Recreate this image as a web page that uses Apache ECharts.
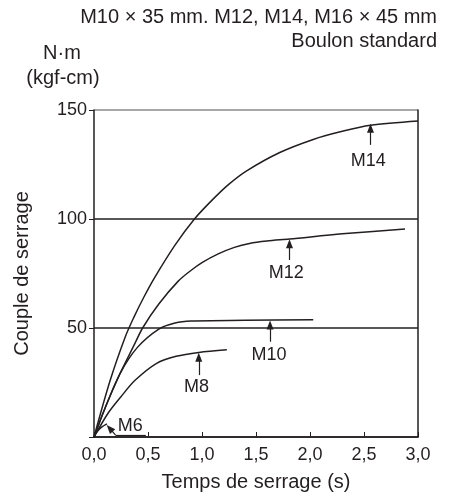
<!DOCTYPE html>
<html>
<head>
<meta charset="utf-8">
<script src="https://cdn.jsdelivr.net/npm/echarts@6/dist/echarts.min.js"></script>
<style>
  html, body { margin: 0; padding: 0; background: #fff; }
  #main { width: 453px; height: 494px; }
</style>
</head>
<body>
<div id="main"></div>
<script>
// courbes : [temps (s), couple]
var m6 = [[0, 0], [0.03, 2.5], [0.07, 4.5], [0.12, 6]];
var m8 = [[0, 0], [0.13, 10.9], [0.25, 18.5], [0.38, 26], [0.58, 33.8], [0.76, 37], [0.97, 38.8], [1.23, 40]];
var m10 = [[0, 0], [0.1, 13], [0.24, 29], [0.4, 41], [0.6, 49.5], [0.75, 52.3], [0.9, 53.2], [1.4, 53.5], [2.03, 53.8]];
var m12 = [[0, 0], [0.1, 13], [0.24, 29], [0.37, 42], [0.45, 50], [0.6, 61], [0.78, 71.5], [0.9, 76.5], [1.0, 80],
           [1.15, 84], [1.3, 87], [1.44, 88.8], [1.6, 89.9], [1.81, 90.8], [2.3, 93.2], [2.88, 95.4]];
var m14 = [[0, 0], [0.15, 26], [0.29, 46], [0.37, 55], [0.46, 64], [0.56, 73], [0.75, 88], [0.93, 100], [1.1, 109],
           [1.25, 116], [1.41, 122], [1.72, 130.5], [2.03, 136.5], [2.28, 140], [2.56, 143], [3.0, 145]];

// repères : [t, couple bas de la flèche, couple pointe, t texte, couple texte]
var noteM8 = [0.97, 28.4, 36.6, 0.95, 23.1];
var noteM10 = [1.63, 43.7, 51.4, 1.62, 37.6];
var noteM12 = [1.81, 81.2, 88.6, 1.78, 75.2];
var noteM14 = [2.56, 134, 141.6, 2.54, 126.6];

var ink = '#231f20';
var fontFam = 'Liberation Sans, Arial, sans-serif';

function fmt(v) {
  return v.toFixed(1).replace('.', ',');
}

function arrowNote(name, n) {
  return {
    markLine: {
      silent: true,
      symbol: ['none', 'triangle'],
      symbolSize: [7, 9],
      lineStyle: { color: ink, width: 1.2, type: 'solid' },
      label: { show: false },
      data: [[{ coord: [n[0], n[1]] }, { coord: [n[0], n[2]] }]]
    },
    markPoint: {
      silent: true,
      symbol: 'rect',
      symbolSize: 1,
      itemStyle: { color: 'rgba(0,0,0,0)' },
      label: { show: true, position: 'inside', formatter: name, color: ink, fontSize: 18, fontFamily: fontFam },
      data: [{ coord: [n[3], n[4]] }]
    }
  };
}

function curve(name, data, note) {
  var s = {
    name: name,
    type: 'line',
    data: data,
    smooth: 0.3,
    showSymbol: false,
    lineStyle: { color: ink, width: 1.5 },
    itemStyle: { color: ink }
  };
  if (note) {
    var a = arrowNote(name, note);
    s.markLine = a.markLine;
    s.markPoint = a.markPoint;
  }
  return s;
}

var chart = echarts.init(document.getElementById('main'));

var m6Series = curve('M6', m6);
m6Series.markLine = {
  silent: true,
  symbol: 'none',
  lineStyle: { color: ink, width: 1.2, type: 'solid' },
  label: { show: false },
  data: [
    [{ coord: [0.2, 0.9], symbol: 'none' }, { coord: [0.145, 4.0], symbol: 'triangle', symbolSize: [7, 9] }],
    [{ coord: [0.2, 0.9] }, { coord: [0.48, 0.9] }]
  ]
};
m6Series.markPoint = arrowNote('M6', [0, 0, 0, 0.335, 5.2]).markPoint;

chart.setOption({
  animation: false,
  backgroundColor: '#fff',
  textStyle: { fontFamily: fontFam, color: ink },
  grid: { left: 94, right: 35, top: 110, bottom: 57, outerBoundsMode: 'none' },
  graphic: [
    { type: 'text', right: 16, top: 7, style: { text: 'M10 × 35 mm. M12, M14, M16 × 45 mm', fontSize: 20, fontFamily: fontFam, fill: ink } },
    { type: 'text', right: 16, top: 31, style: { text: 'Boulon standard', fontSize: 20, fontFamily: fontFam, fill: ink } },
    { type: 'text', x: 62, y: 53, style: { text: 'N·m', fontSize: 20, fontFamily: fontFam, fill: ink, textAlign: 'center', textVerticalAlign: 'middle' } },
    { type: 'text', x: 63, y: 78, style: { text: '(kgf-cm)', fontSize: 20, fontFamily: fontFam, fill: ink, textAlign: 'center', textVerticalAlign: 'middle' } }
  ],
  xAxis: {
    type: 'value',
    min: 0,
    max: 3,
    interval: 0.5,
    name: 'Temps de serrage (s)',
    nameLocation: 'middle',
    nameGap: 35,
    nameTextStyle: { fontSize: 20, color: ink, fontFamily: fontFam },
    axisLine: { show: true, lineStyle: { color: ink, width: 1.5 } },
    axisTick: { show: true, inside: true, length: 5, lineStyle: { color: ink } },
    axisLabel: { fontSize: 18, color: ink, margin: 9, formatter: fmt },
    splitLine: { show: false }
  },
  yAxis: [{
    type: 'value',
    min: 0,
    max: 150,
    interval: 50,
    name: 'Couple de serrage',
    nameLocation: 'middle',
    nameGap: 62,
    nameTextStyle: { fontSize: 20, color: ink, fontFamily: fontFam },
    axisLine: { show: true, lineStyle: { color: ink, width: 1.5 } },
    axisTick: { show: true, length: 5, lineStyle: { color: ink } },
    axisLabel: { fontSize: 18, color: ink, margin: 7, formatter: function (v) { return v === 0 ? '' : String(v); } },
    splitLine: { show: true, lineStyle: { color: [ink, ink, ink, '#8a8a8a'], width: 1.5 } }
  }, {
    type: 'value',
    position: 'right',
    min: 0,
    max: 150,
    interval: 50,
    axisLine: { show: true, lineStyle: { color: ink, width: 1.5 } },
    axisTick: { show: false },
    axisLabel: { show: false },
    splitLine: { show: false }
  }],
  series: [
    m6Series,
    curve('M8', m8, noteM8),
    curve('M10', m10, noteM10),
    curve('M12', m12, noteM12),
    curve('M14', m14, noteM14)
  ]
});
</script>
</body>
</html>
